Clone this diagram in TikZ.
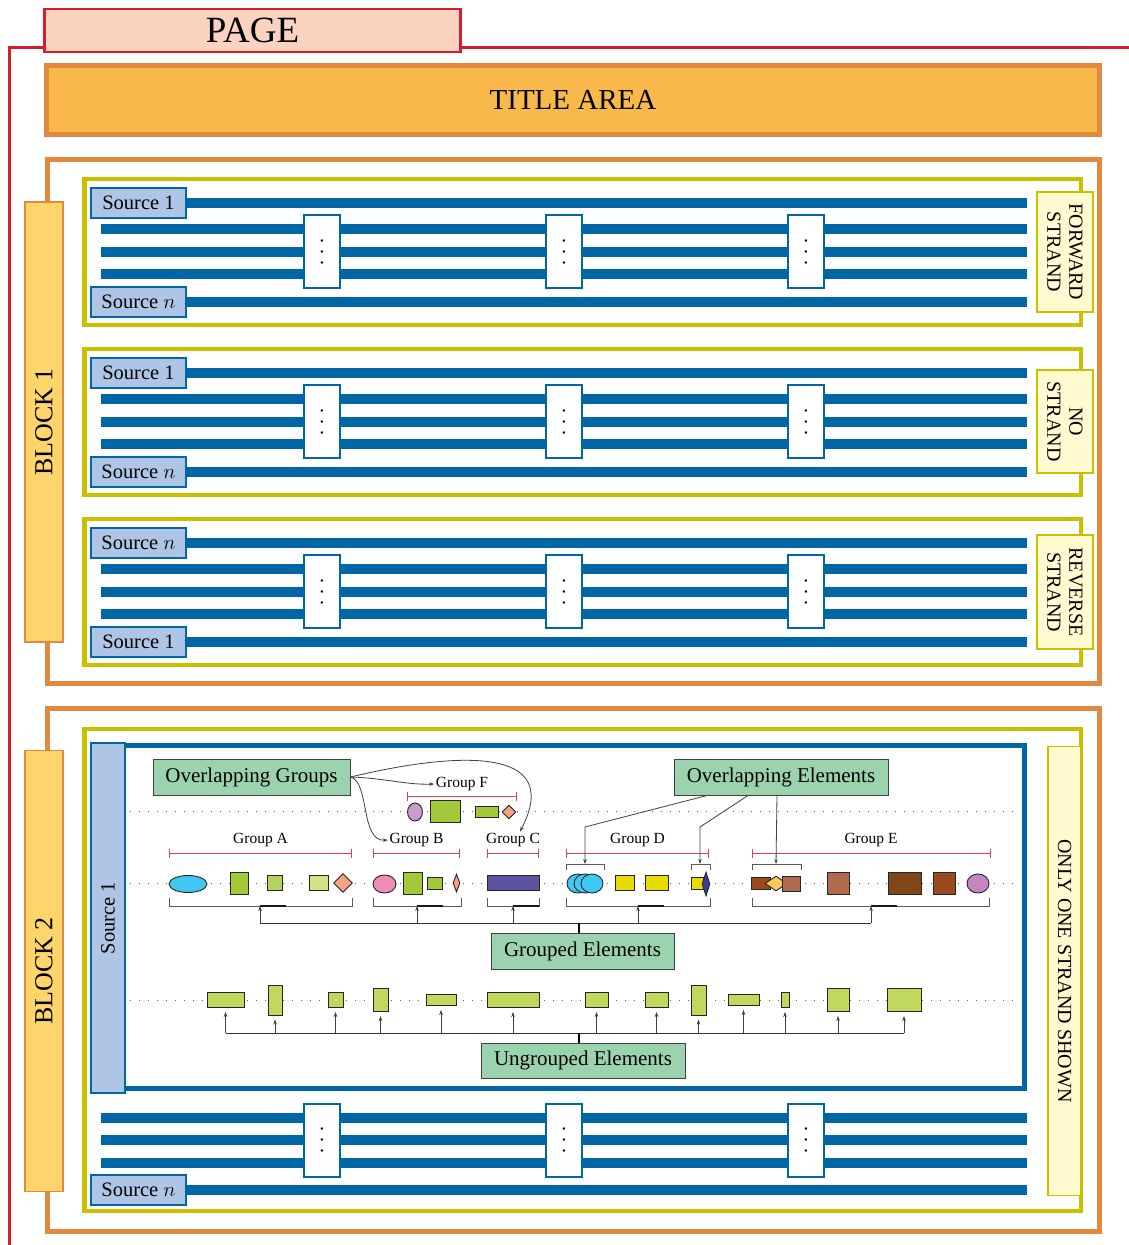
\documentclass[tikz,border=0pt]{standalone}
\usepackage{fontspec}
\setmainfont{Liberation Serif}
\usetikzlibrary{arrows.meta,positioning,calc,shapes.geometric}
\definecolor{pagered}{HTML}{D21F2B}
\definecolor{pagefill}{HTML}{FCD3C1}
\definecolor{titlefill}{HTML}{F9B84A}
\definecolor{frameorange}{HTML}{E3883F}
\definecolor{blockfill}{HTML}{FDD56A}
\definecolor{strandyel}{HTML}{C9C000}
\definecolor{notefill}{HTML}{FFFAD0}
\definecolor{strandblue}{HTML}{0066A6}
\definecolor{srcfill}{HTML}{AEC5E5}
\definecolor{labelgreen}{HTML}{9BD3AE}
\definecolor{grpred}{HTML}{E0434F}
\definecolor{lilac}{HTML}{C99BC9}
\definecolor{leaf}{HTML}{A3C93A}
\definecolor{lime}{HTML}{B5D25A}
\definecolor{palelime}{HTML}{D5E283}
\definecolor{salmon}{HTML}{F6A284}
\definecolor{sky}{HTML}{40C8F2}
\definecolor{rose}{HTML}{F08CB8}
\definecolor{indigo}{HTML}{5953A0}
\definecolor{lemon}{HTML}{E9DB00}
\definecolor{navy}{HTML}{3B3C96}
\definecolor{rust}{HTML}{9A4A1E}
\definecolor{clay}{HTML}{B06A4E}
\definecolor{cocoa}{HTML}{7F4619}
\definecolor{amber}{HTML}{FFC85A}
\definecolor{orchid}{HTML}{C386BF}
\definecolor{ungrp}{HTML}{C0D95C}
\tikzset{
  pagebox/.style={draw=pagered, line width=2.5pt, fill=pagefill, inner sep=0pt,
                  font=\fontsize{37}{39}\selectfont},
  titlebox/.style={draw=frameorange, line width=5pt, fill=titlefill, inner sep=0pt,
                   font=\fontsize{29}{31}\selectfont},
  blockbox/.style={draw=frameorange, line width=1.5pt, fill=blockfill, rotate=90,
                   inner sep=0pt, font=\fontsize{26}{28}\selectfont},
  notebox/.style={draw=strandyel, line width=1.5pt, fill=notefill, rotate=-90,
                  align=center, inner sep=0pt, font=\fontsize{20}{22}\selectfont},
  srcbox/.style={draw=strandblue, line width=2pt, fill=srcfill, minimum width=95,
                 minimum height=30, inner sep=0pt, font=\fontsize{20.5}{22}\selectfont},
  dotbox/.style={draw=strandblue, line width=2pt, fill=white, rotate=90,
                 minimum width=73, minimum height=36, inner sep=0pt,
                 font=\fontsize{20}{22}\selectfont},
  strand/.style={strandblue, line width=10pt},
  greenbox/.style={draw=black!75, line width=1pt, fill=labelgreen, inner sep=0pt,
                   font=\fontsize{21}{23}\selectfont},
  grplabel/.style={inner sep=1.5pt, font=\fontsize{15.5}{17}\selectfont},
  grpbar/.style={grpred, line width=1pt, {Bar[width=9pt]}-{Bar[width=9pt]}},
  brk/.style={black!65, line width=1pt},
  elem/.style={draw=black!85, line width=0.9pt, inner sep=0pt},
  boxel/.style={elem, rectangle},
  ellel/.style={elem, ellipse},
  diael/.style={elem, diamond},
  dotrow/.style={black!60, line width=1pt, dash pattern=on 1pt off 8pt},
  arr/.style={-{Stealth[length=5pt,width=3.5pt]}, line width=0.8pt, black!75},
  bus/.style={line width=1pt, black!80},
  stem/.style={line width=2pt, black}}

\begin{document}
\begin{tikzpicture}[x=1pt,y=-1pt]
  \useasboundingbox (0,0) rectangle (1129,1245);
  % page and title
  \draw[pagered, line width=3pt] (9.5,1245) -- (9.5,47) -- (1129,47);
  \node[pagebox, minimum width=416, minimum height=43] (page) at (252.5,30.5) {PAGE};
  \node[titlebox, minimum width=1053, minimum height=69] (title) at (573,100) {TITLE AREA};

  % block 1
  \draw[frameorange, line width=4.5pt] (47.5,159.5) rectangle (1099.5,683.5);
  \node[blockbox, minimum width=440, minimum height=38] (blk1) at (44,422) {BLOCK 1};
  \foreach \st/\sa/\sb/\sl/\sy/\sh/\k in
      {179/Source 1/Source $n$/FORWARD\\STRAND/252/120/1,
       349/Source 1/Source $n$/NO\\STRAND/421.5/103/2,
       519/Source $n$/Source 1/REVERSE\\STRAND/592/114/3}
  {
    \draw[strandyel, line width=4.5pt] (84.5,\st) rectangle (1081,\st+146);
    \foreach \dy in {23.5,50,73,95,122.5}
      \draw[strand] (101,\st+\dy) -- (1027,\st+\dy);
    \node[srcbox] (srcA\k) at (138.5,\st+23.5) {\sa};
    \node[srcbox] (srcB\k) at (138.5,\st+122.5) {\sb};
    \foreach \x in {322,564,806}
      \node[dotbox] (dots\k\x) at (\x,\st+72.5) {.\kern6pt.\kern6pt.};
    \node[notebox, minimum width=\sh, minimum height=56] (side\k) at (1065,\sy) {\sl};
  }

  % block 2
  \draw[frameorange, line width=4.5pt] (47.5,708.5) rectangle (1099.5,1231.5);
  \node[blockbox, minimum width=441, minimum height=38] (blk2) at (44,971) {BLOCK 2};
  \draw[strandyel, line width=4.5pt] (84.5,729) rectangle (1081,1211);
  \node[notebox, minimum width=449, minimum height=33] (side4) at (1064.5,971)
    {ONLY ONE STRAND SHOWN};
  \foreach \y in {1117.5,1140,1162.5,1190}
    \draw[strand] (101,\y) -- (1027,\y);
  \node[srcbox] (srcB4) at (138.5,1190) {Source $n$};
  \foreach \x in {322,564,806}
    \node[dotbox] (dots4\x) at (\x,1140) {.\kern6pt.\kern6pt.};
  \draw[strandblue, line width=5pt, fill=white] (120,745.5) rectangle (1024,1088.5);
  \node[srcbox, rotate=90, minimum width=350, minimum height=34] (srcA4) at (108,918) {Source 1};

  % element rows
  \draw[dotrow] (130,811) -- (1015,811);
  \draw[dotrow] (130,883) -- (1015,883);
  \draw[dotrow] (130,1000) -- (1015,1000);

  \node[greenbox, minimum width=197, minimum height=36] (og) at (251.5,777) {Overlapping Groups};
  \node[greenbox, minimum width=214, minimum height=36] (oe) at (781,777) {Overlapping Elements};
  \node[greenbox, minimum width=183, minimum height=36] (ge) at (582.5,951) {Grouped Elements};
  \node[greenbox, minimum width=204, minimum height=35] (ue) at (583,1060.5) {Ungrouped Elements};

  % group labels and ranges
  \node[grplabel] (gF) at (462,784) {Group F};
  \node[grplabel] (gA) at (260.5,840) {Group A};
  \node[grplabel] (gB) at (416.5,840) {Group B};
  \node[grplabel] (gC) at (513,840) {Group C};
  \node[grplabel] (gD) at (637.5,840) {Group D};
  \node[grplabel] (gE) at (871,840) {Group E};
  \draw[grpbar] (407,796) -- (517,796);
  \draw[grpbar] (169,853) -- (352,853);
  \draw[grpbar] (373,853) -- (460,853);
  \draw[grpbar] (487,853) -- (539,853);
  \draw[grpbar] (566,853) -- (709,853);
  \draw[grpbar] (752,853) -- (991,853);

  % group F
  \node[ellel, fill=lilac, minimum width=15, minimum height=18] (f1) at (415,812) {};
  \node[boxel, fill=leaf, minimum width=30, minimum height=22] (f2) at (445,811) {};
  \node[boxel, fill=leaf, minimum width=23, minimum height=11] (f3) at (486.5,811.5) {};
  \node[diael, fill=salmon, minimum width=14, minimum height=14] (f4) at (509,812) {};
  % group A
  \node[ellel, fill=sky, minimum width=38, minimum height=17] (a1) at (188,884) {};
  \node[boxel, fill=leaf, minimum width=18, minimum height=22] (a2) at (239,883) {};
  \node[boxel, fill=lime, minimum width=15, minimum height=15] (a3) at (275,883) {};
  \node[boxel, fill=palelime, minimum width=19, minimum height=15] (a4) at (318.5,883) {};
  \node[diael, fill=salmon, minimum width=19, minimum height=19] (a5) at (343,883) {};
  % group B
  \node[ellel, fill=rose, minimum width=23, minimum height=18] (b1) at (384.5,884) {};
  \node[boxel, fill=leaf, minimum width=19, minimum height=22] (b2) at (412.5,883) {};
  \node[boxel, fill=leaf, minimum width=15, minimum height=12] (b3) at (434.5,883) {};
  \node[diael, fill=salmon, minimum width=7, minimum height=18] (b4) at (456.5,883) {};
  % group C
  \node[boxel, fill=indigo, minimum width=52, minimum height=15] (c1) at (513,883) {};
  % group D
  \node[ellel, fill=sky, minimum width=22, minimum height=19] (d1) at (578,883.5) {};
  \node[ellel, fill=sky, minimum width=22, minimum height=19] (d2) at (585,883.5) {};
  \node[ellel, fill=sky, minimum width=22, minimum height=19] (d3) at (592,883.5) {};
  \node[boxel, fill=lemon, minimum width=19, minimum height=15] (d4) at (624.5,883) {};
  \node[boxel, fill=lemon, minimum width=23, minimum height=15] (d5) at (656.5,883) {};
  \node[boxel, fill=lemon, minimum width=12, minimum height=12] (d6) at (697,883) {};
  \node[diael, fill=navy, minimum width=8, minimum height=24] (d7) at (706,884) {};
  % group E
  \node[boxel, fill=rust, minimum width=19, minimum height=12] (e1) at (760.5,883) {};
  \node[diael, fill=amber, minimum width=22, minimum height=15] (e2) at (776,883.5) {};
  \node[boxel, fill=clay, minimum width=18, minimum height=15] (e3) at (791,883.5) {};
  \node[boxel, fill=clay, minimum width=22, minimum height=22] (e4) at (838,883) {};
  \node[boxel, fill=cocoa, minimum width=33, minimum height=22] (e5) at (904.5,883) {};
  \node[boxel, fill=rust, minimum width=22, minimum height=22] (e6) at (944,883) {};
  \node[ellel, fill=orchid, minimum width=22, minimum height=19] (e7) at (978,883.5) {};

  % brackets under the groups
  \draw[brk] (169,898) |- (352,906) -- (352,898);
  \draw[brk] (373,898) |- (461,906) -- (461,898);
  \draw[brk] (487,898) |- (539,906) -- (539,898);
  \draw[brk] (566,898) |- (710,906) -- (710,898);
  \draw[brk] (752,898) |- (989,906) -- (989,898);
  \coordinate (bA) at (260,906);
  \coordinate (bB) at (417,906);
  \coordinate (bC) at (513,906);
  \coordinate (bD) at (638,906);
  \coordinate (bE) at (871,906);
  \foreach \g in {A,B,C,D,E}
    \draw[line width=1.8pt, black!90] (b\g) -- ++(26,0);
  % brackets over the overlapping elements
  \draw[brk] (566,870) |- (604,864) -- (604,870);
  \draw[brk] (691,870) |- (710,864) -- (710,870);
  \draw[brk] (752,870) |- (801,864) -- (801,870);
  \coordinate (oD1) at (585,864);
  \coordinate (oD2) at (700,864);
  \coordinate (oE1) at (776,864);

  % overlapping groups
  \draw[arr] (og.east) .. controls (385,778) and (405,785) .. (gF.west);
  \draw[arr] (og.east) .. controls (370,782) and (360,842) .. (gB.west);
  \draw[arr] (og.east) .. controls (455,752) and (565,745) .. ([xshift=7pt]gC.north);
  % overlapping elements
  \draw[arr] ([xshift=-74pt]oe.south) -- ($(oD1)+(0,-37)$) -- (oD1);
  \draw[arr] ([xshift=-33pt]oe.south) -- ($(oD2)+(0,-37)$) -- (oD2);
  \draw[arr] ([xshift=-4pt]oe.south) -- (oE1);

  % grouped elements
  \coordinate (gbus) at (579,923);
  \draw[bus] (gbus -| bA) -- (gbus -| bE);
  \foreach \g in {A,B,C,D,E}
    \draw[arr] (gbus -| b\g) -- (b\g);
  \draw[stem] (gbus) -- (gbus |- ge.north);

  % ungrouped elements
  \foreach \x/\w/\h [count=\i] in {225.5/37/15, 275/14/30, 335.5/15/15, 380.5/15/23,
      441/30/11, 513/52/15, 596.5/23/15, 656.5/23/15, 698.5/15/30, 743.5/31/11,
      785/8/15, 838/22/23, 904/34/23}
    \node[boxel, fill=ungrp, minimum width=\w, minimum height=\h] (u\i) at (\x,1000) {};
  \coordinate (ubus) at (579,1033);
  \draw[bus] (ubus -| u1) -- (ubus -| u13);
  \foreach \i in {1,...,13}
    \draw[arr] (ubus -| u\i) -- ([yshift=-4pt]u\i.south);
  \draw[stem] (ubus) -- (ubus |- ue.north);
\end{tikzpicture}
\end{document}
